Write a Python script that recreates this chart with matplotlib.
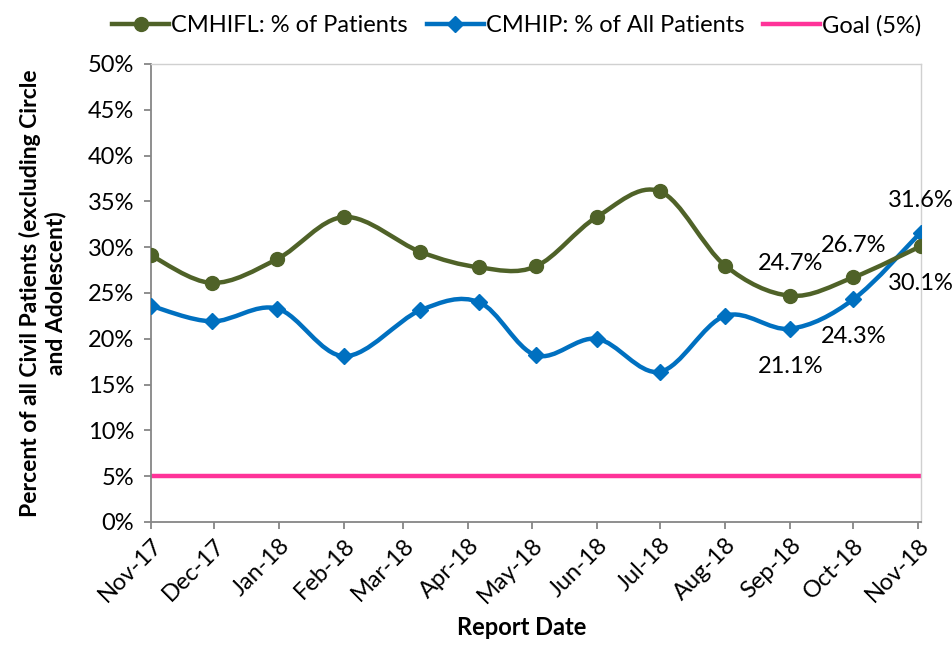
import datetime as dt
import matplotlib
matplotlib.use('Agg')
import matplotlib.pyplot as plt
import matplotlib.dates as mdates
import numpy as np
from matplotlib.path import Path
from matplotlib.patches import PathPatch
from matplotlib.lines import Line2D
from matplotlib.ticker import FuncFormatter, MultipleLocator

plt.rcParams['font.family'] = ['Lato', 'DejaVu Sans']

# report dates (date axis, points are not evenly spaced)
report_dates = [dt.date(2017, 11, 1), dt.date(2017, 11, 30), dt.date(2017, 12, 31),
                dt.date(2018, 2, 1), dt.date(2018, 3, 9), dt.date(2018, 4, 6),
                dt.date(2018, 5, 3), dt.date(2018, 6, 1), dt.date(2018, 7, 1),
                dt.date(2018, 8, 1), dt.date(2018, 9, 1), dt.date(2018, 10, 1),
                dt.date(2018, 11, 2)]
cmhifl = [29.1, 26.1, 28.7, 33.3, 29.5, 27.8, 27.9, 33.3, 36.1, 28.0, 24.7, 26.7, 30.1]
cmhip = [23.6, 21.9, 23.3, 18.1, 23.1, 24.0, 18.2, 20.0, 16.4, 22.5, 21.1, 24.3, 31.6]
goal = [5.0] * len(report_dates)

# which points carry a data label: +1 above, -1 below
cmhifl_labels = {10: 1, 11: 1, 12: -1}
cmhip_labels = {10: -1, 11: -1, 12: 1}

green = '#4F6228'
blue = '#0070C0'
pink = '#FF3399'
fs = 17


def smooth_path(x, y):
    # Excel-like smoothed line: cubic bezier through each point
    pts = np.column_stack([x, y])
    n = len(pts)
    verts = [pts[0]]
    codes = [Path.MOVETO]
    for i in range(n - 1):
        p0 = pts[max(i - 1, 0)]
        p1 = pts[i]
        p2 = pts[i + 1]
        p3 = pts[min(i + 2, n - 1)]
        verts += [p1 + (p2 - p0) / 6, p2 - (p3 - p1) / 6, p2]
        codes += [Path.CURVE4] * 3
    return Path(verts, codes)


fig = plt.figure(figsize=(9.52, 6.45), dpi=100)
ax = fig.add_axes([0.1586, 0.1907, 0.8084, 0.7101])

xnum = mdates.date2num(report_dates)

series = [
    (cmhip, blue, 'D', 8, cmhip_labels),
    (cmhifl, green, 'o', 10, cmhifl_labels),
]
ax.plot(xnum, goal, color=pink, lw=3.2, solid_capstyle='butt', zorder=2)
for vals, col, mk, ms, labs in series:
    ax.add_patch(PathPatch(smooth_path(xnum, vals), facecolor='none',
                           edgecolor=col, lw=3.2, zorder=3))
    ax.plot(xnum, vals, linestyle='none', marker=mk, ms=ms, color=col, zorder=4)
    for idx, side in labs.items():
        ax.annotate(f'{vals[idx]:.1f}%', (xnum[idx], vals[idx]),
                    xytext=(0, 23 if side > 0 else -27), textcoords='offset points',
                    ha='center', va='center', fontsize=fs, color='black',
                    annotation_clip=False, zorder=5)

ax.set_ylim(0, 50)
ax.set_xlim(xnum[0], xnum[-1])
ax.yaxis.set_major_locator(MultipleLocator(5))
ax.yaxis.set_major_formatter(FuncFormatter(lambda v, p: f'{v:.0f}%'))
ax.xaxis.set_major_locator(mdates.MonthLocator())
ax.xaxis.set_major_formatter(mdates.DateFormatter('%b-%y'))

for lab in ax.get_xticklabels():
    lab.set_rotation(45)
    lab.set_ha('right')
    lab.set_rotation_mode('anchor')

ax.tick_params(axis='both', labelsize=fs, color='#868686', length=5, width=1.3)
ax.tick_params(axis='y', pad=7)
ax.tick_params(axis='x', pad=4)
for s in ['left', 'bottom']:
    ax.spines[s].set_color('#868686')
    ax.spines[s].set_linewidth(1.3)
for s in ['top', 'right']:
    ax.spines[s].set_color('#D0D0D0')
    ax.spines[s].set_linewidth(1.0)

ax.set_ylabel('Percent of all Civil Patients (excluding Circle\nand Adolescent)',
              fontsize=16.5, fontweight='bold', linespacing=1.2)
ax.yaxis.set_label_coords(-0.11, 0.5)
ax.set_xlabel('Report Date', fontsize=fs, fontweight='bold')
ax.xaxis.set_label_coords(0.482, -0.205)

handles = [
    Line2D([], [], color=green, lw=3.2, marker='o', ms=10),
    Line2D([], [], color=blue, lw=3.2, marker='D', ms=8),
    Line2D([], [], color=pink, lw=3.2),
]
names = ['CMHIFL: % of Patients', 'CMHIP: % of All Patients', 'Goal (5%)']
fig.legend(handles, names, loc='upper center', bbox_to_anchor=(0.543, 1.01),
           ncol=3, frameon=False, fontsize=fs, handlelength=2.4,
           handletextpad=0.1, columnspacing=0.8)

fig.savefig('out.png', dpi=100)
